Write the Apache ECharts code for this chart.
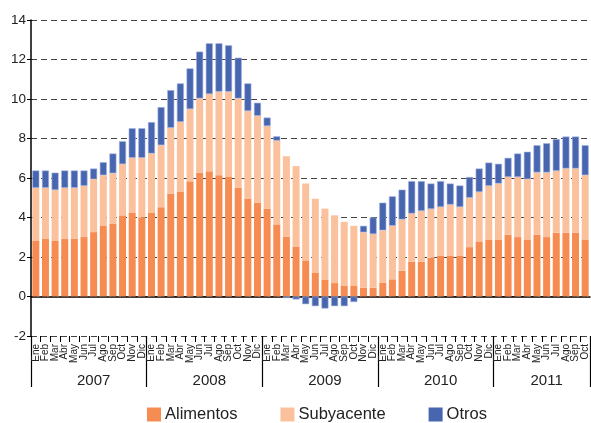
<!DOCTYPE html>
<html>
<head>
<meta charset="utf-8">
<script src="https://cdn.jsdelivr.net/npm/echarts@6/dist/echarts.min.js"></script>
<style>
  html, body { margin: 0; padding: 0; background: #fff; }
  #chart { width: 591px; height: 423px; }
</style>
</head>
<body>
<div id="chart"></div>
<script>
// etiquetas de meses y años
var monthNames = ["Ene", "Feb", "Mar", "Abr", "May", "Jun", "Jul", "Ago", "Sep", "Oct", "Nov", "Dic"];
var years = ["2007", "2008", "2009", "2010", "2011"];
var monthsInYear = [12, 12, 12, 12, 10];
var yTicks = [-2, 0, 2, 4, 6, 8, 10, 12, 14];

// contribuciones (puntos porcentuales), Ene 2007 - Oct 2011
var alimentos = [
  2.81, 2.91, 2.81, 2.91, 2.91, 3.01, 3.26, 3.57, 3.67, 4.11, 4.23, 4.01,
  4.23, 4.52, 5.21, 5.29, 5.83, 6.26, 6.34, 6.14, 6.05, 5.50, 4.96, 4.74,
  4.45, 3.65, 3.02, 2.51, 1.83, 1.19, 0.86, 0.68, 0.56, 0.56, 0.45, 0.45,
  0.69, 0.87, 1.30, 1.76, 1.76, 1.96, 2.05, 2.05, 2.05, 2.50, 2.79, 2.89,
  2.89, 3.13, 3.01, 2.89, 3.13, 3.01, 3.23, 3.23, 3.23, 2.89
];
var subyacente = [
  2.69, 2.59, 2.58, 2.59, 2.59, 2.59, 2.68, 2.57, 2.57, 2.59, 2.79, 3.01,
  3.01, 3.14, 3.33, 3.55, 3.66, 3.77, 3.91, 4.23, 4.32, 4.53, 4.43, 4.41,
  4.18, 4.24, 4.08, 4.09, 3.89, 3.76, 3.59, 3.43, 3.22, 3.02, 2.80, 2.71,
  2.66, 2.71, 2.60, 2.44, 2.57, 2.47, 2.48, 2.60, 2.48, 2.50, 2.50, 2.71,
  2.83, 2.92, 3.04, 3.05, 3.15, 3.27, 3.13, 3.25, 3.25, 3.25
];
var otros = [
  0.88, 0.88, 0.88, 0.88, 0.88, 0.78, 0.54, 0.66, 1.00, 1.16, 1.50, 1.50,
  1.59, 1.93, 1.91, 1.95, 2.06, 2.37, 2.57, 2.45, 2.35, 2.06, 1.40, 0.66,
  0.43, 0.22, -0.08, -0.15, -0.39, -0.49, -0.61, -0.49, -0.49, -0.28, 0.33, 0.84,
  1.40, 1.49, 1.51, 1.64, 1.51, 1.29, 1.31, 1.07, 1.09, 1.05, 1.19, 1.18,
  1.00, 0.97, 1.19, 1.39, 1.38, 1.48, 1.61, 1.62, 1.62, 1.52
];

// construir categorías y posiciones de los años
var categories = [];
var yearStart = {};
var yearMid = {};
years.forEach(function (y, k) {
  yearStart[categories.length] = y;
  yearMid[categories.length + Math.floor(monthsInYear[k] / 2)] = y;
  for (var m = 0; m < monthsInYear[k]; m++) {
    categories.push(monthNames[m]);
  }
});

var font = "Liberation Sans, Arial, sans-serif";
var myChart = echarts.init(document.getElementById("chart"), null, { renderer: "canvas" });

var option = {
  animation: false,
  textStyle: { fontFamily: font },
  grid: { left: 31, right: 1, top: 20, bottom: 87, containLabel: false },
  legend: {
    left: 147,
    top: 406,
    padding: 0,
    itemWidth: 14,
    itemHeight: 14,
    itemGap: 43,
    icon: "rect",
    itemStyle: { borderWidth: 0 },
    textStyle: { fontSize: 16.5, color: "#222", fontFamily: font, padding: [0, 0, 0, -1] },
    data: ["Alimentos", "Subyacente", "Otros"]
  },
  xAxis: [
    {
      // meses
      type: "category",
      data: categories,
      position: "bottom",
      axisLine: { show: false, onZero: false },
      axisTick: { show: true, interval: 0, length: 6, lineStyle: { color: "#000" } },
      axisLabel: { interval: 0, rotate: 90, fontSize: 10, margin: 8, color: "#222", fontFamily: font },
      splitLine: { show: false }
    },
    {
      // años
      type: "category",
      data: categories,
      position: "bottom",
      axisLine: { show: false, onZero: false },
      axisTick: {
        show: true,
        alignWithLabel: false,
        interval: function (idx) { return yearStart[idx] !== undefined; },
        length: 51,
        lineStyle: { color: "#000", width: 1.2 }
      },
      axisLabel: {
        interval: function (idx) { return yearMid[idx] !== undefined; },
        formatter: function (v, idx) { return yearMid[idx] || ""; },
        fontSize: 15,
        margin: 37,
        color: "#222",
        fontFamily: font
      },
      splitLine: { show: false }
    },
    {
      // línea del cero
      type: "category",
      data: categories,
      position: "bottom",
      axisLine: { show: true, onZero: true, lineStyle: { color: "#000", width: 1.5 } },
      axisTick: { show: false },
      axisLabel: { show: false },
      splitLine: { show: false }
    }
  ],
  yAxis: {
    type: "value",
    min: yTicks[0],
    max: yTicks[yTicks.length - 1],
    interval: 2,
    axisLine: { show: true, lineStyle: { color: "#000", width: 1.5 } },
    axisTick: { show: true, length: 4, lineStyle: { color: "#000" } },
    axisLabel: { fontSize: 13.5, color: "#222", margin: 5, fontFamily: font },
    splitLine: { show: true, lineStyle: { color: "#444", type: [6, 4], width: 1 } }
  },
  series: [
    {
      name: "Alimentos",
      type: "bar",
      stack: "total",
      barWidth: 7,
      itemStyle: { color: "#F68C52" },
      data: alimentos
    },
    {
      name: "Subyacente",
      type: "bar",
      stack: "total",
      barWidth: 7,
      itemStyle: { color: "#FBC19C" },
      data: subyacente
    },
    {
      name: "Otros",
      type: "bar",
      stack: "total",
      barWidth: 7,
      itemStyle: { color: "#4865B0", borderColor: "#9fb0dc", borderWidth: 0.6 },
      data: otros
    }
  ]
};
myChart.setOption(option);
</script>
</body>
</html>
